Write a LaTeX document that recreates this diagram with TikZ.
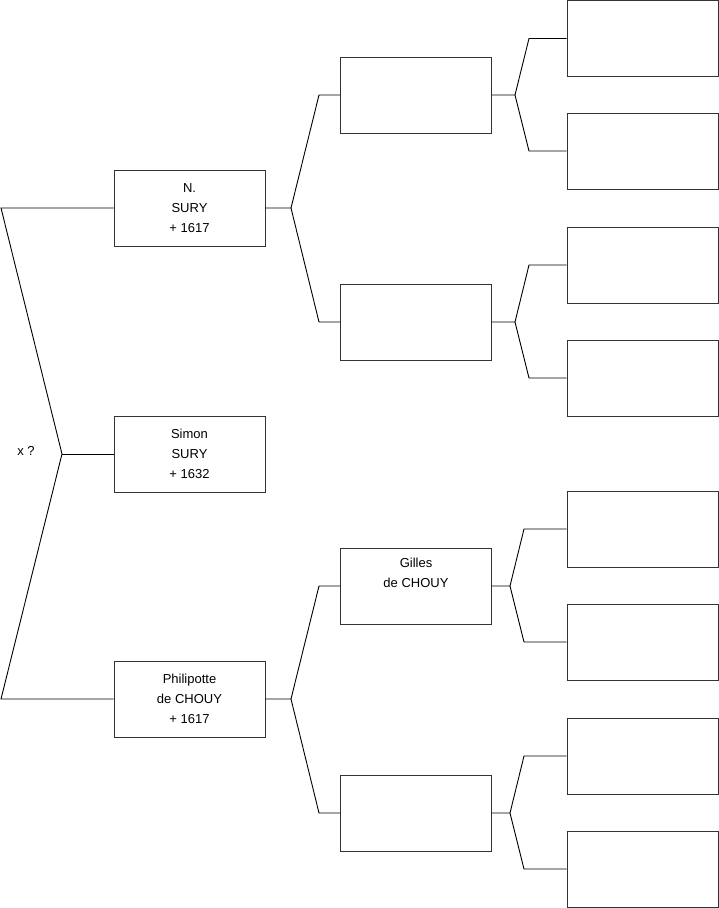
\documentclass[tikz,border=0pt]{standalone}
\usepackage{fontspec}
\setmainfont{Liberation Sans}
\begin{document}
\begin{tikzpicture}[x=1pt,y=-1pt,
  person/.style={draw=black!80, line width=0.9pt, minimum width=151pt, minimum height=76pt,
    inner sep=0pt, align=center, font=\fontsize{13}{20}\selectfont},
  link/.style={draw=black, line width=0.9pt},
  lbl/.style={font=\fontsize{13}{16}\selectfont, inner sep=0pt}]
\useasboundingbox (0,0) rectangle (719,908);
% generation 1
\node[person] (a) at (189.5,208) {N.\\SURY\\+ 1617};
\node[person] (b) at (189.5,454) {Simon\\SURY\\+ 1632};
\node[person] (c) at (189.5,699) {Philipotte\\de CHOUY\\+ 1617};
% generation 2
\node[person] (d) at (416,95) {};
\node[person] (e) at (416,322) {};
\node[person] (f) at (416,586) {Gilles\\de CHOUY\\\strut};
\node[person] (g) at (416,813) {};
% generation 3
\node[person] (d1) at (642.5,38.5) {};
\node[person] (d2) at (642.5,151) {};
\node[person] (e1) at (642.5,265) {};
\node[person] (e2) at (642.5,378) {};
\node[person] (f1) at (642.5,529) {};
\node[person] (f2) at (642.5,642) {};
\node[person] (g1) at (642.5,756) {};
\node[person] (g2) at (642.5,869) {};
\node[lbl] (x) at (26,451) {x ?};
% junctions
\coordinate (j0) at (62,454);
\coordinate (l1) at (1,208);
\coordinate (l2) at (1,699);
\coordinate (ja) at (291,208);
\coordinate (ta1) at (319,95);
\coordinate (ta2) at (319,322);
\coordinate (jc) at (291,699);
\coordinate (tc1) at (319,586);
\coordinate (tc2) at (319,813);
\coordinate (jd) at (515,95);
\coordinate (td1) at (529,38.5);
\coordinate (td2) at (529,151);
\coordinate (je) at (515,322);
\coordinate (te1) at (529,265);
\coordinate (te2) at (529,378);
\coordinate (jf) at (510,586);
\coordinate (tf1) at (524,529);
\coordinate (tf2) at (524,642);
\coordinate (jg) at (510,813);
\coordinate (tg1) at (524,756);
\coordinate (tg2) at (524,869);
% connectors
\draw[link] (a.west) -- (l1) -- (j0) -- (l2) -- (c.west);
\draw[link] (j0) -- (b.west);
\draw[link] (a.east) -- (ja) -- (ta1) -- (d.west);
\draw[link] (ja) -- (ta2) -- (e.west);
\draw[link] (c.east) -- (jc) -- (tc1) -- (f.west);
\draw[link] (jc) -- (tc2) -- (g.west);
\draw[link] (d.east) -- (jd) -- (td1) -- (d1.west);
\draw[link] (jd) -- (td2) -- (d2.west);
\draw[link] (e.east) -- (je) -- (te1) -- (e1.west);
\draw[link] (je) -- (te2) -- (e2.west);
\draw[link] (f.east) -- (jf) -- (tf1) -- (f1.west);
\draw[link] (jf) -- (tf2) -- (f2.west);
\draw[link] (g.east) -- (jg) -- (tg1) -- (g1.west);
\draw[link] (jg) -- (tg2) -- (g2.west);
\end{tikzpicture}
\end{document}
